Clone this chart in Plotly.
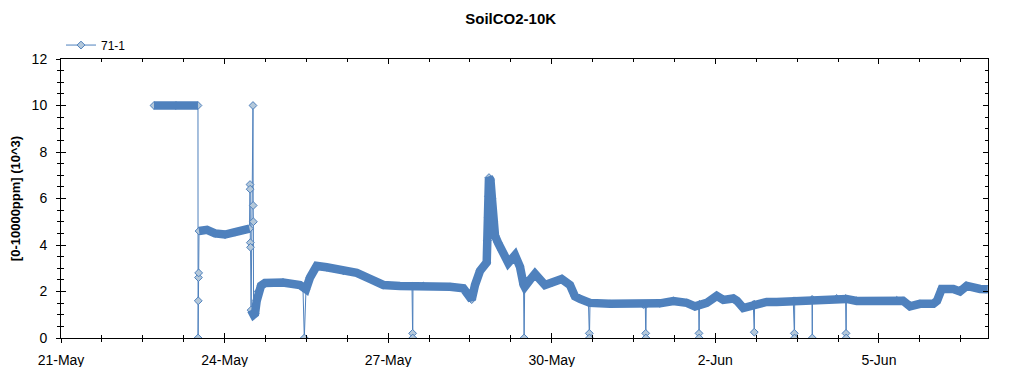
import plotly.graph_objects as go

# ---- data (sensor 71-1, values in 10^3 ppm) ----
times = [
    "2019-05-22 16:56", "2019-05-23 02:37", "2019-05-23 12:17",
    "2019-05-23 12:20", "2019-05-23 12:25", "2019-05-23 12:30", "2019-05-23 12:35",
    "2019-05-23 12:45", "2019-05-23 16:15", "2019-05-23 19:47", "2019-05-24 00:11",
    "2019-05-24 04:35", "2019-05-24 08:59", "2019-05-24 10:58",
    "2019-05-24 11:11", "2019-05-24 11:15", "2019-05-24 11:20", "2019-05-24 11:25",
    "2019-05-24 11:40", "2019-05-24 12:30", "2019-05-24 12:35", "2019-05-24 12:40",
    "2019-05-24 12:45", "2019-05-24 13:23", "2019-05-24 14:08", "2019-05-24 14:47",
    "2019-05-24 16:02", "2019-05-24 17:47", "2019-05-25 01:42", "2019-05-25 09:11",
    "2019-05-25 10:30", "2019-05-25 11:05", "2019-05-25 11:50", "2019-05-25 13:35",
    "2019-05-25 16:32", "2019-05-25 20:56", "2019-05-26 04:15", "2019-05-26 10:09",
    "2019-05-26 16:00", "2019-05-26 21:52", "2019-05-27 05:12", "2019-05-27 10:29",
    "2019-05-27 10:45", "2019-05-27 10:50", "2019-05-27 10:55", "2019-05-27 15:27",
    "2019-05-28 03:13", "2019-05-28 09:04", "2019-05-28 11:15", "2019-05-28 12:46",
    "2019-05-28 14:13", "2019-05-28 16:25", "2019-05-28 19:22", "2019-05-28 19:40",
    "2019-05-28 19:55", "2019-05-28 20:10", "2019-05-28 20:22", "2019-05-28 21:01",
    "2019-05-28 21:40", "2019-05-28 22:22", "2019-05-28 23:01", "2019-05-29 00:20",
    "2019-05-29 01:58", "2019-05-29 04:52", "2019-05-29 07:49", "2019-05-29 10:01",
    "2019-05-29 11:34", "2019-05-29 11:50", "2019-05-29 12:05", "2019-05-29 14:25",
    "2019-05-29 16:37", "2019-05-29 21:01", "2019-05-29 23:58", "2019-05-30 04:22",
    "2019-05-30 08:01", "2019-05-30 10:13", "2019-05-30 12:25", "2019-05-30 16:09",
    "2019-05-30 16:31", "2019-05-30 16:35", "2019-05-30 16:50", "2019-05-31 01:38",
    "2019-05-31 16:17", "2019-05-31 17:10", "2019-05-31 17:21", "2019-05-31 17:25",
    "2019-05-31 17:35", "2019-05-31 23:38", "2019-06-01 05:30", "2019-06-01 11:23",
    "2019-06-01 15:03", "2019-06-01 16:40", "2019-06-01 16:48", "2019-06-01 16:52",
    "2019-06-01 17:00", "2019-06-01 20:11", "2019-06-02 00:36", "2019-06-02 03:30",
    "2019-06-02 07:54", "2019-06-02 09:30", "2019-06-02 12:17", "2019-06-02 16:42",
    "2019-06-02 17:08", "2019-06-02 17:15", "2019-06-02 22:35", "2019-06-03 03:00",
    "2019-06-03 10:18", "2019-06-03 10:45", "2019-06-03 10:50", "2019-06-03 10:55",
    "2019-06-03 18:32", "2019-06-03 18:40", "2019-06-03 18:45", "2019-06-04 05:24",
    "2019-06-04 09:20", "2019-06-04 09:30", "2019-06-04 09:35", "2019-06-04 09:40",
    "2019-06-04 14:12", "2019-06-04 20:04", "2019-06-05 07:49", "2019-06-05 10:35",
    "2019-06-05 13:40", "2019-06-05 18:04", "2019-06-05 23:56", "2019-06-06 01:34",
    "2019-06-06 03:37", "2019-06-06 08:44", "2019-06-06 11:40", "2019-06-06 14:37",
    "2019-06-06 20:29", "2019-06-06 23:50",
]
values = [
    10.0, 10.0, 10.0,
    0.0, 1.6, 2.6, 2.8,
    4.6, 4.65, 4.5, 4.45,
    4.55, 4.65, 4.7,
    6.6, 6.4, 4.1, 3.9,
    1.2, 10.0, 5.7, 5.0,
    1.0, 1.05, 1.6, 2.0,
    2.25, 2.37, 2.39, 2.28,
    2.15, 0.0, 2.1, 2.6,
    3.1, 3.04, 2.89, 2.80,
    2.54, 2.28, 2.24, 2.24,
    0.2, 0.0, 2.24, 2.24,
    2.20, 2.14, 1.9, 1.65,
    2.28, 2.89, 3.25, 4.2,
    5.2, 6.1, 6.9, 6.8,
    6.0, 5.0, 4.4, 4.1,
    3.75, 3.23, 3.56, 3.06,
    2.3, 0.0, 2.2, 2.5,
    2.76, 2.28, 2.37, 2.54,
    2.28, 1.79, 1.68, 1.52,
    0.2, 0.0, 1.51, 1.47,
    1.44, 1.44, 0.2, 0.0,
    1.45, 1.49, 1.59, 1.51,
    1.36, 1.40, 0.2, 0.0,
    1.45, 1.51, 1.81, 1.64,
    1.70, 1.6, 1.29, 1.44,
    0.25, 1.45, 1.55, 1.55,
    1.59, 0.2, 0.0, 1.60,
    1.65, 0.0, 1.65, 1.70,
    1.70, 0.2, 0.0, 1.68,
    1.59, 1.59, 1.62, 1.6,
    1.36, 1.47, 1.47, 1.6,
    2.11, 2.11, 2.0, 2.24,
    2.11, 2.1,
]
# 1 = isolated reading (drop-out / transient) that is not part of the dense band
outlier = [
    0, 0, 0,
    1, 1, 1, 1,
    0, 0, 0, 0,
    0, 0, 0,
    1, 1, 1, 1,
    0, 1, 1, 1,
    0, 0, 0, 0,
    0, 0, 0, 0,
    0, 1, 0, 0,
    0, 0, 0, 0,
    0, 0, 0, 0,
    1, 1, 0, 0,
    0, 0, 0, 0,
    0, 0, 0, 0,
    0, 0, 0, 0,
    0, 0, 0, 0,
    0, 0, 0, 0,
    0, 1, 0, 0,
    0, 0, 0, 0,
    0, 0, 0, 0,
    1, 1, 0, 0,
    0, 0, 1, 1,
    0, 0, 0, 0,
    0, 0, 1, 1,
    0, 0, 0, 0,
    0, 0, 0, 0,
    1, 0, 0, 0,
    0, 1, 1, 0,
    0, 1, 0, 0,
    0, 1, 1, 0,
    0, 0, 0, 0,
    0, 0, 0, 0,
    0, 0, 0, 0,
    0, 0,
]

series_name = "71-1"
title_text = "SoilCO2-10K"
y_title = "[0-10000ppm] (10^3)"
x_range = ["2019-05-21 00:00", "2019-06-07 00:00"]
y_range = [0, 12]

LINE = "#4F81BD"
FILL = "#B4C8DA"
FONT = "Liberation Sans, Arial, sans-serif"

# dense band (continuous signal): skip isolated readings, break on large jumps
band_x, band_y = [], []
prev = None
for t, v, o in zip(times, values, outlier):
    if o:
        continue
    if prev is not None and abs(v - prev) > 2:
        band_x.append(None)
        band_y.append(None)
    band_x.append(t)
    band_y.append(v)
    prev = v

fig = go.Figure()
fig.add_trace(go.Scatter(
    x=times, y=values, name=series_name, mode="lines+markers",
    line=dict(color=LINE, width=1),
    marker=dict(symbol="diamond", size=6, color=FILL, line=dict(color=LINE, width=1)),
    xaxis="x", yaxis="y",
))
fig.add_trace(go.Scatter(
    x=band_x, y=band_y, mode="lines", showlegend=False, hoverinfo="skip",
    line=dict(color=LINE, width=8.5), connectgaps=False,
    xaxis="x2", yaxis="y2",
))

day = 86400000
common_x = dict(type="date", range=x_range, tick0="2019-05-21", dtick=3 * day,
                tickformat="%-d-%b", tickcolor="black", tickwidth=1,
                showgrid=False, zeroline=False)
common_y = dict(range=y_range, tick0=0, dtick=2, tickcolor="black", tickwidth=1,
                showgrid=False, zeroline=False)

# the page body has an 8px margin, so the figure is 1008x359 placed at (8, 8)
fig.update_layout(
    width=1008, height=359,
    margin=dict(l=53, r=28, t=51, b=29, autoexpand=False),
    paper_bgcolor="white", plot_bgcolor="white",
    font=dict(family=FONT, color="black", size=14),
    title=dict(text=title_text, x=0.4987, xanchor="center", y=0.969, yanchor="middle",
               font=dict(family=FONT, size=15, weight="bold", color="black")),
    showlegend=True,
    legend=dict(x=0, y=1.05, xanchor="left", yanchor="middle", orientation="h",
                font=dict(family=FONT, size=12, color="black"),
                bgcolor="rgba(0,0,0,0)", borderwidth=0),
    xaxis=dict(**common_x, ticks="outside", ticklen=4,
               minor=dict(dtick=0.75 * day, tick0="2019-05-21", ticks="outside",
                          ticklen=3, tickcolor="black", tickwidth=1, showgrid=False),
               showline=True, linecolor="black", linewidth=1, mirror=True,
               ticklabelstandoff=5, tickfont=dict(size=14)),
    yaxis=dict(**common_y, ticks="outside", ticklen=4,
               minor=dict(dtick=0.5, ticks="outside", ticklen=3, tickcolor="black",
                          tickwidth=1, showgrid=False),
               showline=True, linecolor="black", linewidth=1, mirror=True,
               ticklabelstandoff=6, tickfont=dict(size=14),
               title=dict(text=y_title, standoff=15,
                          font=dict(family=FONT, size=13, weight="bold"))),
    xaxis2=dict(**common_x, overlaying="x", matches="x", side="bottom", anchor="y2",
                ticks="inside", ticklen=5, showticklabels=False, showline=False,
                mirror="ticks",
                minor=dict(dtick=0.75 * day, tick0="2019-05-21", ticks="inside",
                           ticklen=3, tickcolor="black", tickwidth=1, showgrid=False)),
    yaxis2=dict(**common_y, overlaying="y", matches="y", side="left", anchor="x2",
                ticks="inside", ticklen=5, showticklabels=False, showline=False,
                mirror="ticks",
                minor=dict(dtick=0.5, ticks="inside", ticklen=3, tickcolor="black",
                           tickwidth=1, showgrid=False)),
)

fig.write_html("out.html")
